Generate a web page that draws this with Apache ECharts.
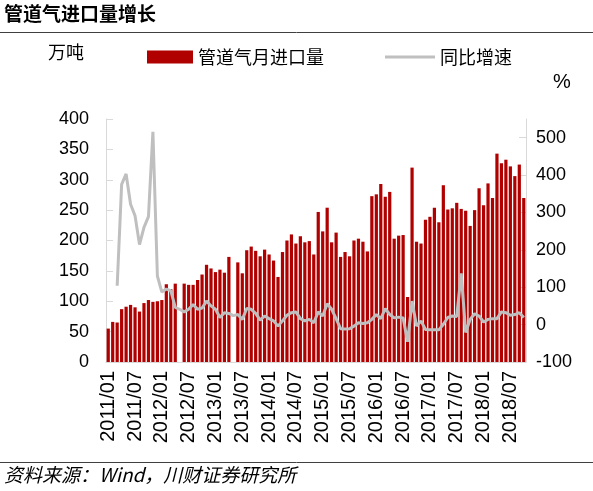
<!DOCTYPE html>
<html>
<head>
<meta charset="utf-8">
<script src="https://cdn.jsdelivr.net/npm/echarts@6/dist/echarts.min.js"></script>
<style>
html,body{margin:0;padding:0;background:#fff;}
#c{width:593px;height:491px;}
</style>
</head>
<body>
<div id="c"></div>
<script>
const categories = [
'2011/01','2011/02','2011/03','2011/04','2011/05','2011/06','2011/07','2011/08','2011/09','2011/10','2011/11','2011/12',
'2012/01','2012/02','2012/03','2012/04','2012/05','2012/06','2012/07','2012/08','2012/09','2012/10','2012/11','2012/12',
'2013/01','2013/02','2013/03','2013/04','2013/05','2013/06','2013/07','2013/08','2013/09','2013/10','2013/11','2013/12',
'2014/01','2014/02','2014/03','2014/04','2014/05','2014/06','2014/07','2014/08','2014/09','2014/10','2014/11','2014/12',
'2015/01','2015/02','2015/03','2015/04','2015/05','2015/06','2015/07','2015/08','2015/09','2015/10','2015/11','2015/12',
'2016/01','2016/02','2016/03','2016/04','2016/05','2016/06','2016/07','2016/08','2016/09','2016/10','2016/11','2016/12',
'2017/01','2017/02','2017/03','2017/04','2017/05','2017/06','2017/07','2017/08','2017/09','2017/10','2017/11','2017/12',
'2018/01','2018/02','2018/03','2018/04','2018/05','2018/06','2018/07','2018/08','2018/09','2018/10'
];
// 管道气月进口量 (万吨)
const importVolume = [
55, 66, 65, 87, 91, 94, 90, 83, 97, 102, 99, 100,
102, 128, 120, 129, null, 129, 127, 127, 135, 144, 160, 154,
148, 152, 147, 173, null, 164, 146, 184, 190, 183, 174, 185,
177, 167, 140, 181, 200, 210, 195, 207, 197, 199, 177, 247,
215, 254, 197, 213, 173, 181, 174, 200, 203, 198, 182, 273,
276, 293, 272, 280, 203, 208, 209, 107, 320, 198, 195, 234,
239, 254, 230, 291, 251, 253, 262, 252, 249, 224, 250, 286,
258, 294, 270, 343, 327, 333, 322, 306, 325, 270
];
// 同比增速 (%)
const yoyGrowth = [
null, null, 104, 375, 403, 322, 291, 214, 260, 289, 516, 130,
87, 95, 91, 46, 41, 34, 41, 54, 41, 44, 63, 50,
41, 19, 32, 30, 24, 27, 14, 43, 41, 30, 12, 23,
16, 10, -4, 10, 25, 32, 34, 16, 10, 14, 5, 34,
23, 56, 41, 16, -11, -12, -11, -4, 5, 3, 5, 14,
27, 16, 43, 27, 18, 20, 18, -46, 63, -4, 10, -13,
-14, -14, -14, 1, 19, 23, 22, 137, -21, 14, 29, 23,
7, 14, 16, 16, 34, 32, 25, 27, 32, 19
];
const leftTicks = {min: 0, max: 400, interval: 50};
const rightTicks = {min: -100, max: 550, interval: 100};

const chart = echarts.init(document.getElementById('c'), null, {renderer: 'canvas'});
const axisFont = 'Liberation Sans';
const cjk = 'Noto Sans CJK SC';
chart.setOption({
  animation: false,
  backgroundColor: '#fff',
  grid: {left: 106, right: 67, top: 119, bottom: 129, containLabel: false},
  legend: [
    {data: ['管道气月进口量'], left: 142, top: 43, itemWidth: 46, itemHeight: 13, icon: 'rect',
     textStyle: {fontSize: 18, color: '#000', fontFamily: cjk}},
    {data: ['同比增速'], left: 380, top: 43, itemWidth: 50, itemHeight: 3, icon: 'rect',
     textStyle: {fontSize: 18, color: '#000', fontFamily: cjk}}
  ],
  xAxis: {
    type: 'category',
    data: categories,
    axisLine: {show: true, lineStyle: {color: '#d9d9d9', width: 1}},
    axisTick: {show: false},
    axisLabel: {interval: 5, rotate: 90, margin: 9, fontSize: 20, color: '#000', fontFamily: axisFont}
  },
  yAxis: [
    {type: 'value', min: leftTicks.min, max: leftTicks.max, interval: leftTicks.interval,
     splitLine: {show: false},
     axisLine: {show: true, lineStyle: {color: '#d9d9d9'}},
     axisTick: {show: true, inside: true, length: 7, lineStyle: {color: '#d9d9d9'}},
     axisLabel: {margin: 17, fontSize: 18, color: '#000', fontFamily: axisFont}},
    {type: 'value', min: rightTicks.min, max: rightTicks.max, interval: rightTicks.interval,
     splitLine: {show: false},
     axisLine: {show: true, lineStyle: {color: '#d9d9d9'}},
     axisTick: {show: true, inside: true, length: 7, lineStyle: {color: '#d9d9d9'}},
     axisLabel: {margin: 10, fontSize: 18, color: '#000', fontFamily: axisFont, showMaxLabel: false}}
  ],
  series: [
    {name: '管道气月进口量', type: 'bar', data: importVolume, yAxisIndex: 0,
     barCategoryGap: '28%', itemStyle: {color: '#B00000'}},
    {name: '同比增速', type: 'line', data: yoyGrowth, yAxisIndex: 1, symbol: 'none',
     connectNulls: false, lineStyle: {color: '#BFBFBF', width: 3}, itemStyle: {color: '#BFBFBF'}}
  ],
  graphic: [
    {type: 'text', left: 4, top: 4, style: {text: '管道气进口量增长', fontSize: 19, fontWeight: 'bold', fill: '#000', fontFamily: cjk}},
    {type: 'line', shape: {x1: 0, y1: 32.5, x2: 593, y2: 32.5}, style: {stroke: '#404040', lineWidth: 1}},
    {type: 'text', left: 48, top: 43, style: {text: '万吨', fontSize: 18, fill: '#000', fontFamily: cjk}},
    {type: 'text', left: 553, top: 72, style: {text: '%', fontSize: 20, fill: '#000', fontFamily: axisFont}},
    {type: 'line', shape: {x1: 0, y1: 462.5, x2: 593, y2: 462.5}, style: {stroke: '#404040', lineWidth: 1}},
    {type: 'text', left: 4, top: 465, style: {text: '资料来源：Wind，川财证券研究所', fontSize: 19, fontStyle: 'italic', fill: '#000', fontFamily: cjk}}
  ]
});
</script>
</body>
</html>
